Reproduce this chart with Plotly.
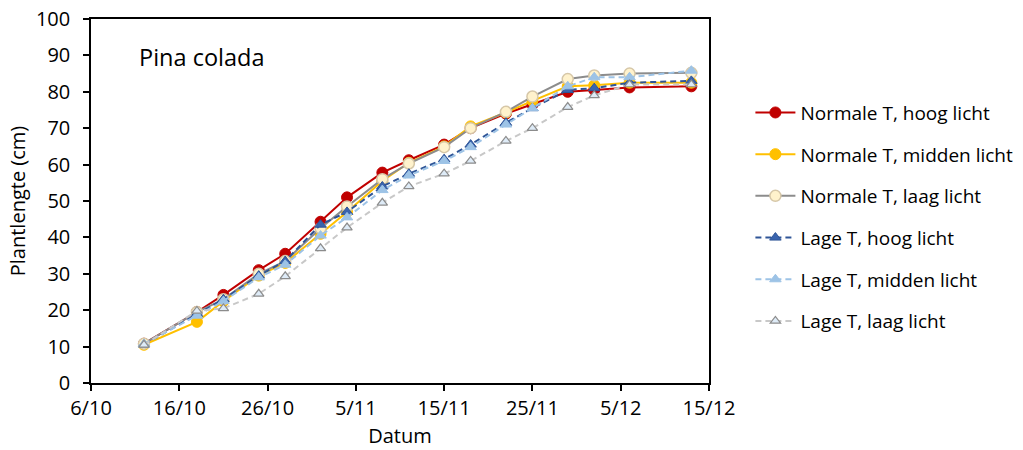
import plotly.graph_objects as go

# ---- data ----
dates = ["2021-10-12", "2021-10-18", "2021-10-21", "2021-10-25", "2021-10-28",
         "2021-11-01", "2021-11-04", "2021-11-08", "2021-11-11", "2021-11-15",
         "2021-11-18", "2021-11-22", "2021-11-25", "2021-11-29", "2021-12-02",
         "2021-12-06", "2021-12-13"]

normaal_hoog   = [10.8, 19.5, 24.2, 31.0, 35.5, 44.3, 51.0, 57.8, 61.2, 65.5, 70.0, 74.0, 76.5, 80.0, 80.5, 81.2, 81.5]
normaal_midden = [10.5, 16.8, 22.5, 29.5, 33.0, 41.0, 47.0, 55.5, 60.5, 65.0, 70.5, 74.3, 77.5, 81.5, 81.8, 82.5, 82.5]
normaal_laag   = [10.8, 19.5, 23.0, 30.0, 33.5, 42.5, 48.5, 56.0, 60.3, 64.8, 70.0, 74.5, 78.7, 83.5, 84.5, 85.0, 85.2]
lage_hoog      = [10.6, 19.0, 23.0, 29.5, 33.5, 43.5, 47.0, 54.0, 57.5, 61.5, 65.5, 71.5, 75.5, 80.5, 81.0, 82.5, 83.0]
lage_midden    = [10.7, 18.5, 22.5, 29.0, 32.5, 40.5, 45.5, 53.0, 57.0, 61.0, 64.8, 71.0, 75.5, 81.5, 84.0, 84.0, 85.8]
lage_laag      = [10.5, 19.8, 20.5, 24.5, 29.3, 37.0, 42.7, 49.5, 54.0, 57.5, 61.0, 66.5, 70.0, 75.8, 79.0, 82.0, 82.0]

series_names = ["Normale T, hoog licht", "Normale T, midden licht", "Normale T, laag licht",
                "Lage T, hoog licht", "Lage T, midden licht", "Lage T, laag licht"]

x_tickvals = ["2021-10-06", "2021-10-16", "2021-10-26", "2021-11-05",
              "2021-11-15", "2021-11-25", "2021-12-05", "2021-12-15"]
x_ticktext = ["6/10", "16/10", "26/10", "5/11", "15/11", "25/11", "5/12", "15/12"]
y_tickvals = [0, 10, 20, 30, 40, 50, 60, 70, 80, 90, 100]

chart_title = "Pina colada"
x_title = "Datum"
y_title = "Plantlengte (cm)"

# ---- styles ----
styles = [
    dict(line=dict(color="#C00000", width=2), marker=dict(symbol="circle", size=11, color="#C00000", line=dict(color="#C00000", width=1))),
    dict(line=dict(color="#FFC000", width=2), marker=dict(symbol="circle", size=11, color="#FFC000", line=dict(color="#FFC000", width=1))),
    dict(line=dict(color="#8C8C8C", width=2), marker=dict(symbol="circle", size=11, color="#FFF2CC", line=dict(color="#D6C7A8", width=1.5))),
    dict(line=dict(color="#2F5597", width=2, dash="6px,4px"), marker=dict(symbol="triangle-up", size=10, color="#3A64AE", line=dict(color="#2F5597", width=1))),
    dict(line=dict(color="#9DC3E6", width=2, dash="6px,4px"), marker=dict(symbol="triangle-up", size=10, color="#9DC3E6", line=dict(color="#9DC3E6", width=1))),
    dict(line=dict(color="#C8C8C8", width=2, dash="6px,4px"), marker=dict(symbol="triangle-up", size=9, color="#DEEBF7", line=dict(color="#8C8C8C", width=1.2))),
]

all_series = [normaal_hoog, normaal_midden, normaal_laag, lage_hoog, lage_midden, lage_laag]

font_family = "Open Sans, Liberation Sans, sans-serif"
fs = 20
legend_fs = 19

fig = go.Figure()
for i, (name, vals, st) in enumerate(zip(series_names, all_series, styles)):
    fig.add_trace(go.Scatter(
        x=dates, y=vals, name=name, mode="lines+markers",
        line=st["line"], marker=st["marker"], legendgroup=f"g{i}",
    ))

fig.update_layout(
    width=1023, height=450,
    margin=dict(l=91, r=314, t=19, b=67, autoexpand=False),
    paper_bgcolor="white", plot_bgcolor="white",
    font=dict(family=font_family, size=fs, color="#000000"),
    showlegend=True,
    legend=dict(
        x=1.067, xanchor="left", y=0.795, yanchor="top",
        font=dict(size=legend_fs, color="#000000"),
        tracegroupgap=14, bgcolor="rgba(0,0,0,0)",
        itemwidth=40,
    ),
    annotations=[dict(
        text=chart_title, x=0.074, y=0.896, xref="paper", yref="paper",
        xanchor="left", yanchor="middle", showarrow=False,
        font=dict(size=23.5, color="#000000", family=font_family),
    )],
)

fig.update_xaxes(
    type="date",
    range=["2021-10-06", "2021-12-15"],
    tickvals=x_tickvals, ticktext=x_ticktext,
    ticks="outside", ticklen=6, tickwidth=1.5, tickcolor="#000000",
    showline=True, linecolor="#000000", linewidth=1.5, mirror=True,
    showgrid=False, zeroline=False,
    tickfont=dict(size=fs),
    title=dict(text=x_title, font=dict(size=fs), standoff=9),
    automargin=False,
)
fig.update_yaxes(
    range=[0, 100],
    tickvals=y_tickvals,
    ticks="outside", ticklen=6, tickwidth=1.5, tickcolor="#000000",
    showline=True, linecolor="#000000", linewidth=1.5, mirror=True,
    showgrid=False, zeroline=False,
    tickfont=dict(size=fs),
    ticklabelstandoff=9,
    title=dict(text=y_title, font=dict(size=fs), standoff=5),
    automargin=False,
)

fig.write_html("out.html")
